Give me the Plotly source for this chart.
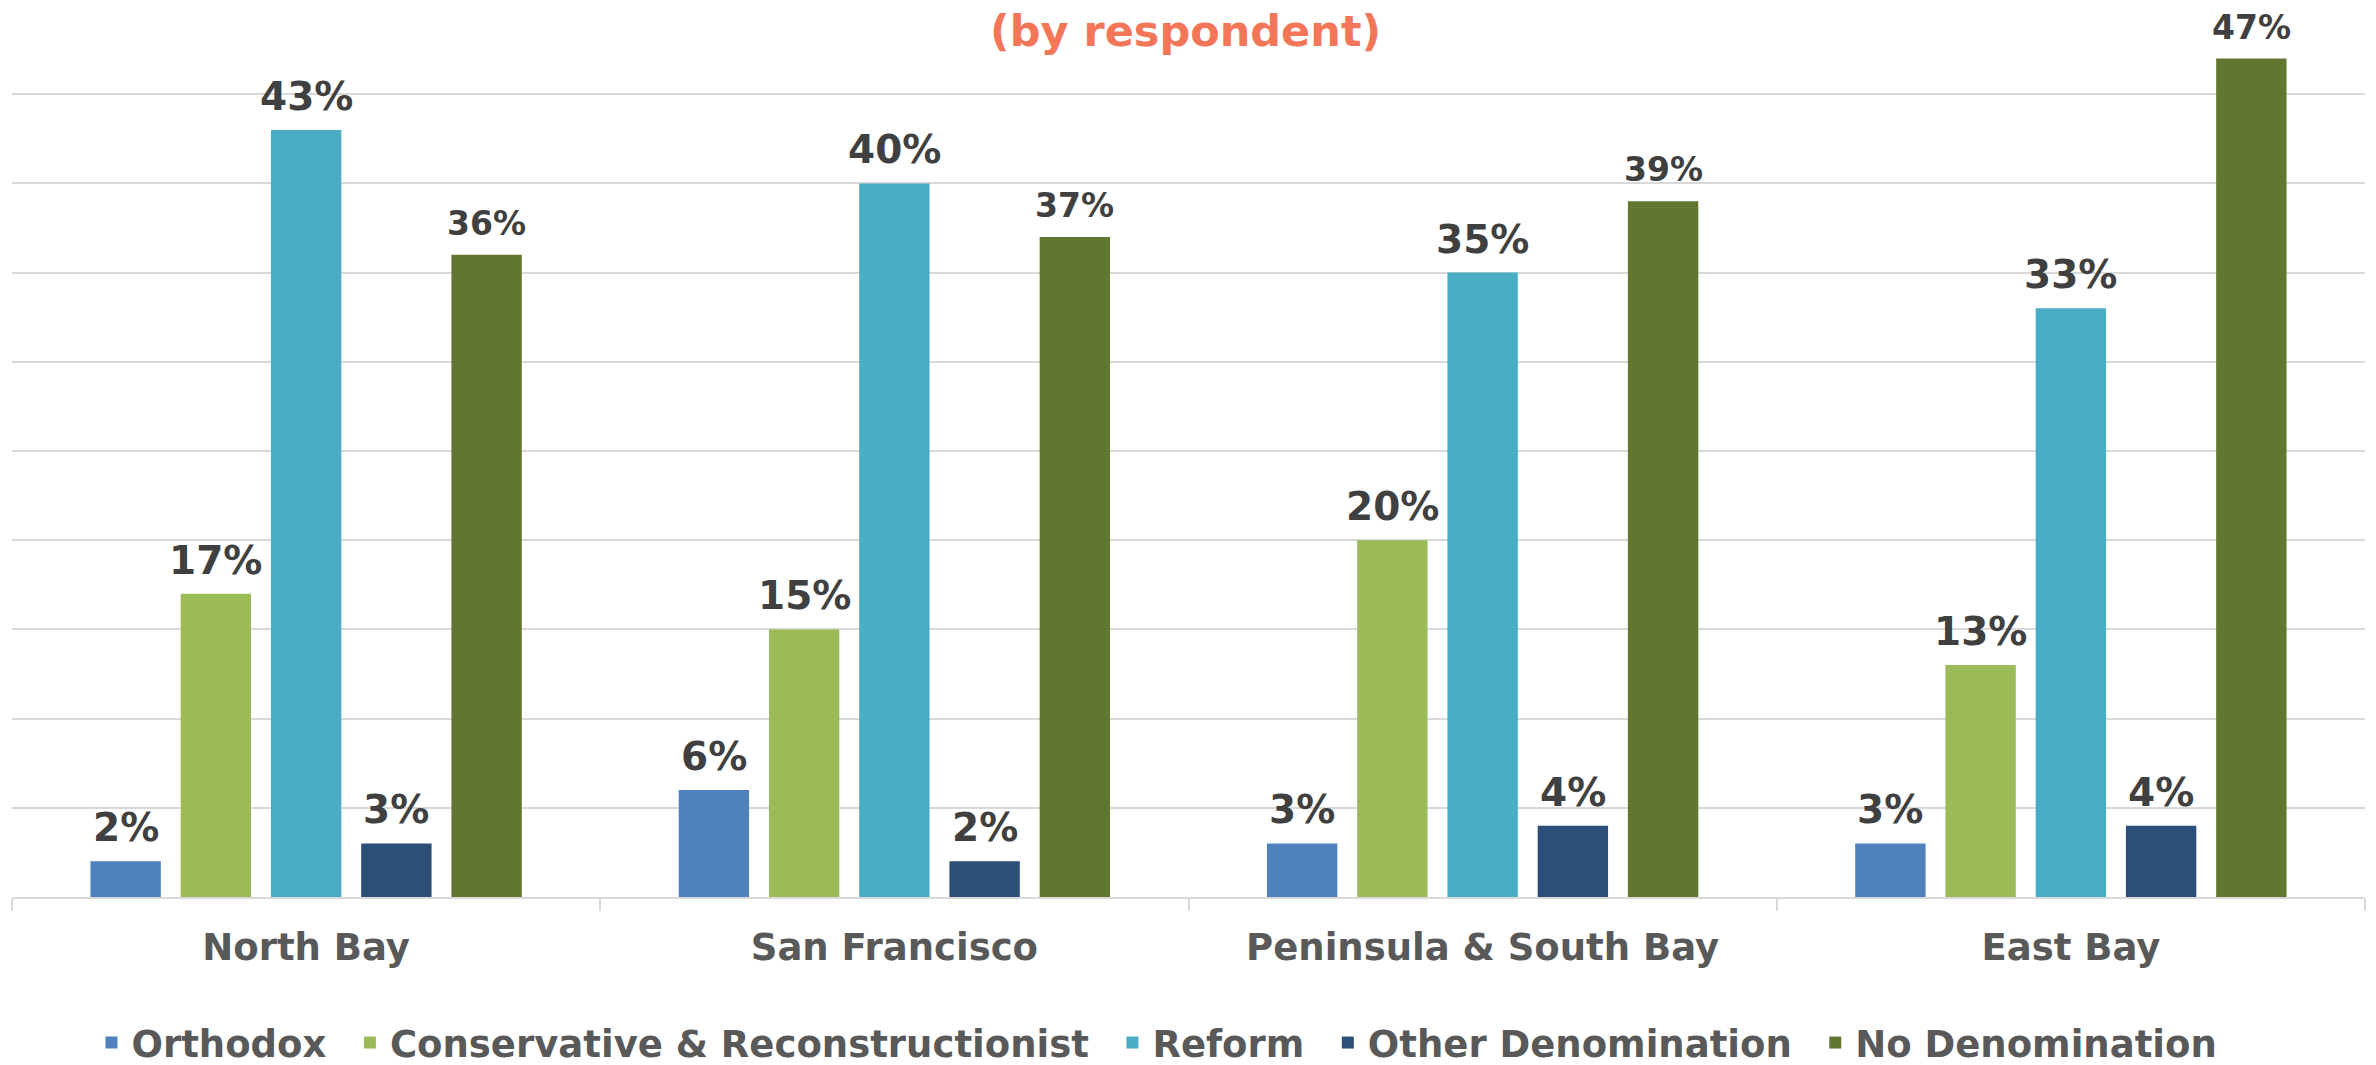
import plotly.graph_objects as go

regions = ["North Bay", "San Francisco", "Peninsula & South Bay", "East Bay"]
series_names = ["Orthodox", "Conservative & Reconstructionist", "Reform",
                "Other Denomination", "No Denomination"]
orthodox = [2, 6, 3, 3]
conservative = [17, 15, 20, 13]
reform = [43, 40, 35, 33]
other_denom = [3, 2, 4, 4]
no_denom = [36, 37, 39, 47]
series_values = [orthodox, conservative, reform, other_denom, no_denom]
colors = ["#4F81BD", "#9BBB59", "#4BACC6", "#2C4F78", "#617731"]
label_sizes = [39, 39, 39, 39, 33]

FONT = "DejaVu Sans"
BARGAP = 0.233
BARGROUPGAP = 0.22

fig = go.Figure()
n = len(series_names)
slot = (1 - BARGAP) / n
annotations = []
for i, (name, vals, col, ls) in enumerate(zip(series_names, series_values, colors, label_sizes)):
    legend_name = name + ("\u2002" if i < n - 1 else "")
    fig.add_trace(go.Bar(
        name=legend_name, x=regions, y=vals,
        marker=dict(color=col, line=dict(width=0)),
    ))
    # value labels above each bar, positioned in axis units
    for j, v in enumerate(vals):
        annotations.append(dict(
            text=f"{v}%", xref="x", yref="y",
            x=j + (i - (n - 1) / 2) * slot, y=v,
            xanchor="center", yanchor="bottom", yshift=9 if ls > 35 else 10,
            showarrow=False,
            font=dict(family=FONT, size=ls, color="#404040", weight="bold"),
        ))

annotations.append(dict(
    text="(by respondent)", xref="paper", yref="paper",
    x=(1185 - 12) / 2353, y=1 - (31 - 5) / 892,
    xanchor="center", yanchor="middle", showarrow=False,
    font=dict(family=FONT, size=43, color="#F47658", weight="bold")))

fig.update_layout(
    width=2376, height=1065,
    margin=dict(l=12, r=11, t=5, b=168, autoexpand=False),
    paper_bgcolor="white", plot_bgcolor="white",
    barmode="group", bargap=BARGAP, bargroupgap=BARGROUPGAP,
    showlegend=True,
    legend=dict(orientation="h", x=0.4866, xanchor="center",
                yref="container", y=1 - 1043 / 1065, yanchor="middle",
                font=dict(family=FONT, size=37, color="#595959", weight="bold"),
                traceorder="normal"),
    xaxis=dict(showgrid=False, showline=True, linecolor="#D9D9D9", linewidth=2,
               range=[-0.5, len(regions) - 0.5],
               ticks="outside", tickson="boundaries", ticklen=12, tickcolor="#D9D9D9",
               tickwidth=2, ticklabelstandoff=17, automargin=False,
               tickfont=dict(family=FONT, size=37, color="#595959", weight="bold")),
    yaxis=dict(range=[0, 50], dtick=5, showgrid=True, gridcolor="#D9D9D9", gridwidth=2,
               showticklabels=False, zeroline=False, showline=False, ticks="",
               automargin=False),
    annotations=annotations,
)

fig.write_html(
    "out.html",
    config={"displayModeBar": False},
    post_script="document.body.style.margin='0';document.body.style.overflow='hidden';",
)
